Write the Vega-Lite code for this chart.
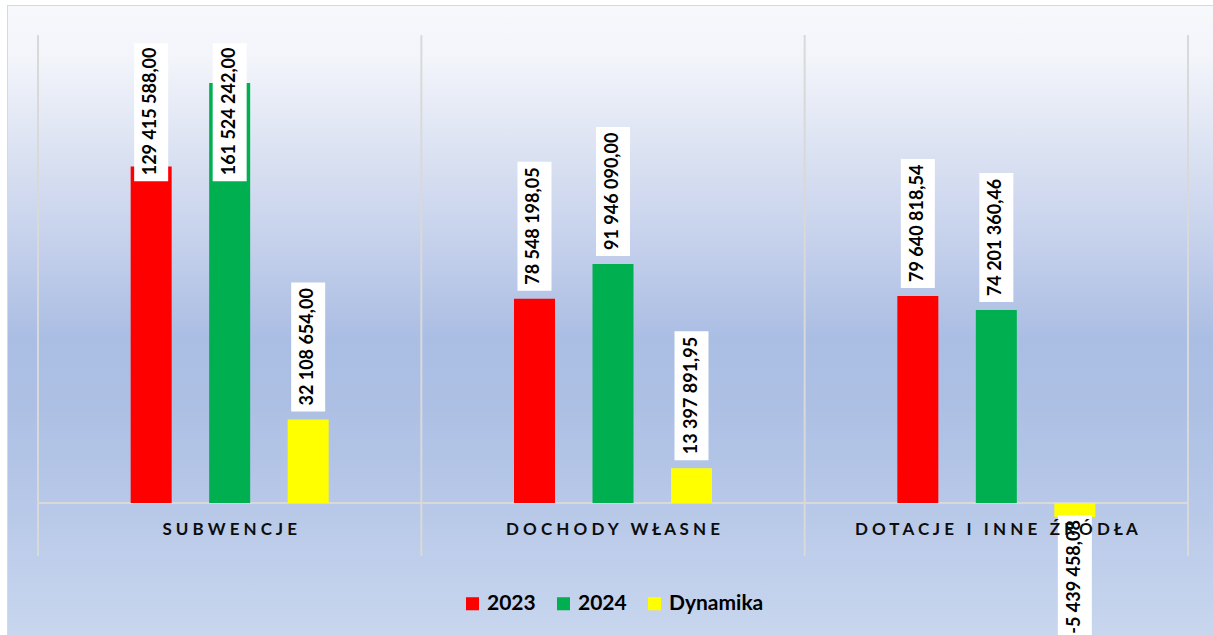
{
  "$schema": "https://vega.github.io/schema/vega-lite/v6.json",
  "autosize": {"type": "none"},
  "padding": {"left": 8, "top": 6, "right": 0, "bottom": 0},
  "width": 1205,
  "height": 629,
  "background": "#ffffff",
  "view": {"stroke": "#d9d9d9", "strokeWidth": 2},
  "title": {
    "text": "Wykres nr 2",
    "anchor": "start",
    "frame": "group",
    "font": "Liberation Serif",
    "fontStyle": "italic",
    "fontWeight": "normal",
    "fontSize": 21,
    "color": "#000000",
    "baseline": "alphabetic",
    "offset": 2,
    "dx": 2
  },
  "config": {
    "font": "Lato",
    "axisY": {"disable": true}
  },
  "data": {
    "values": [
      {"kategoria": "SUBWENCJE", "seria": "2023", "wartosc": 129415588.00},
      {"kategoria": "SUBWENCJE", "seria": "2024", "wartosc": 161524242.00},
      {"kategoria": "SUBWENCJE", "seria": "Dynamika", "wartosc": 32108654.00},
      {"kategoria": "DOCHODY WŁASNE", "seria": "2023", "wartosc": 78548198.05},
      {"kategoria": "DOCHODY WŁASNE", "seria": "2024", "wartosc": 91946090.00},
      {"kategoria": "DOCHODY WŁASNE", "seria": "Dynamika", "wartosc": 13397891.95},
      {"kategoria": "DOTACJE I INNE ŹRÓDŁA", "seria": "2023", "wartosc": 79640818.54},
      {"kategoria": "DOTACJE I INNE ŹRÓDŁA", "seria": "2024", "wartosc": 74201360.46},
      {"kategoria": "DOTACJE I INNE ŹRÓDŁA", "seria": "Dynamika", "wartosc": -5439458.08}
    ]
  },
  "encoding": {
    "x": {
      "field": "kategoria",
      "type": "nominal",
      "sort": null,
      "scale": {"paddingInner": 0, "paddingOuter": 0.07174, "align": 0.5455},
      "axis": {
        "title": null,
        "offset": -132,
        "domain": false,
        "ticks": false,
        "grid": false,
        "labelAngle": 0,
        "labelPadding": 18,
        "labelBaseline": "top",
        "labelFont": "Lato",
        "labelFontSize": 17,
        "labelFontWeight": "bold",
        "labelColor": "#0d0d0d",
        "labelLimit": 0,
        "zindex": 1,
        "labelExpr": "replace(datum.label, regexp('(.)(?!$)', 'g'), '$1\u00a0')"
      }
    }
  },
  "layer": [
    {
      "transform": [{"filter": "datum.seria == '2023' && datum.kategoria == 'SUBWENCJE'"}],
      "mark": {
        "type": "rect",
        "fill": {
          "gradient": "linear",
          "x1": 0, "y1": 0, "x2": 0, "y2": 1,
          "stops": [
            {"offset": 0, "color": "#f7f8fc"},
            {"offset": 0.08, "color": "#f3f5fb"},
            {"offset": 0.23, "color": "#dbe2f2"},
            {"offset": 0.39, "color": "#c3cfeb"},
            {"offset": 0.53, "color": "#aabde3"},
            {"offset": 0.64, "color": "#adc0e4"},
            {"offset": 0.79, "color": "#b7c8e8"},
            {"offset": 1, "color": "#c8d6ee"}
          ]
        }
      },
      "encoding": {"x": {"value": 0}, "x2": {"value": 1205}, "y": {"value": 0}, "y2": {"value": 629}}
    },
    {
      "transform": [{"filter": "datum.seria == '2023'"}],
      "mark": {"type": "rule", "color": "#d9d9d9", "strokeWidth": 2},
      "encoding": {
        "x": {
          "field": "kategoria",
          "type": "nominal",
          "sort": null,
          "bandPosition": 0,
          "scale": {"paddingInner": 0, "paddingOuter": 0.07174, "align": 0.5455},
          "axis": {
            "title": null,
            "offset": -132,
            "domain": false,
            "ticks": false,
            "grid": false,
            "labelAngle": 0,
            "labelPadding": 18,
            "labelBaseline": "top",
            "labelFont": "Lato",
            "labelFontSize": 17,
            "labelFontWeight": "bold",
            "labelColor": "#0d0d0d",
            "labelLimit": 0,
            "zindex": 1,
            "labelExpr": "replace(datum.label, regexp('(.)(?!$)', 'g'), '$1\u00a0')"
          }
        },
        "y": {"datum": 180000000, "type": "quantitative"},
        "y2": {"datum": -20400000}
      }
    },
    {
      "transform": [{"filter": "datum.seria == '2023' && datum.kategoria == 'DOTACJE I INNE ŹRÓDŁA'"}],
      "mark": {"type": "rule", "color": "#d9d9d9", "strokeWidth": 2},
      "encoding": {
        "x": {
          "field": "kategoria",
          "type": "nominal",
          "sort": null,
          "bandPosition": 1,
          "scale": {"paddingInner": 0, "paddingOuter": 0.07174, "align": 0.5455},
          "axis": {
            "title": null,
            "offset": -132,
            "domain": false,
            "ticks": false,
            "grid": false,
            "labelAngle": 0,
            "labelPadding": 18,
            "labelBaseline": "top",
            "labelFont": "Lato",
            "labelFontSize": 17,
            "labelFontWeight": "bold",
            "labelColor": "#0d0d0d",
            "labelLimit": 0,
            "zindex": 1,
            "labelExpr": "replace(datum.label, regexp('(.)(?!$)', 'g'), '$1\u00a0')"
          }
        },
        "y": {"datum": 180000000, "type": "quantitative"},
        "y2": {"datum": -20400000}
      }
    },
    {
      "transform": [{"filter": "datum.seria == '2023'"}],
      "mark": {"type": "tick", "color": "#d9d9d9", "thickness": 2, "size": 384, "opacity": 1},
      "encoding": {
        "y": {"datum": 0, "type": "quantitative"}
      }
    },
    {
      "mark": {"type": "bar", "width": 41},
      "encoding": {
        "xOffset": {
          "field": "seria",
          "type": "nominal",
          "scale": {"domain": ["2023", "2024", "Dynamika"], "paddingInner": 0.117, "paddingOuter": 1}
        },
        "y": {
          "field": "wartosc",
          "type": "quantitative",
          "scale": {"domain": [-50769231, 191153846], "nice": false, "zero": false}
        },
        "color": {
          "field": "seria",
          "type": "nominal",
          "scale": {"domain": ["2023", "2024", "Dynamika"], "range": ["#ff0000", "#00b050", "#ffff00"]},
          "legend": {
            "title": null,
            "orient": "none",
            "legendX": 454,
            "legendY": 587,
            "direction": "horizontal",
            "symbolType": "square",
            "symbolSize": 170,
            "symbolStrokeWidth": 0,
            "labelFont": "Lato",
            "labelFontSize": 21,
            "labelFontWeight": "bold",
            "labelColor": "#000000",
            "labelOffset": 4,
            "columnPadding": 17
          }
        }
      }
    },
    {
      "transform": [
        {"filter": "datum.wartosc >= 0 && datum.wartosc < 100000000"}
      ],
      "mark": {"type": "bar", "width": 34, "fill": "#ffffff", "yOffset": -137, "y2Offset": -8},
      "encoding": {
        "xOffset": {"field": "seria", "type": "nominal"},
        "y": {"field": "wartosc", "type": "quantitative"},
        "y2": {"field": "wartosc"}
      }
    },
    {
      "transform": [
        {"filter": "datum.wartosc >= 100000000"},
        {"calculate": "min(datum.wartosc, 120650000)", "as": "poz"}
      ],
      "mark": {"type": "bar", "width": 34, "fill": "#ffffff", "yOffset": -146, "y2Offset": -8},
      "encoding": {
        "xOffset": {"field": "seria", "type": "nominal"},
        "y": {"field": "poz", "type": "quantitative"},
        "y2": {"field": "poz"}
      }
    },
    {
      "transform": [{"filter": "datum.wartosc < 0"}],
      "mark": {"type": "bar", "width": 34, "fill": "#ffffff", "yOffset": -2, "y2Offset": 150},
      "encoding": {
        "xOffset": {"field": "seria", "type": "nominal"},
        "y": {"field": "wartosc", "type": "quantitative"},
        "y2": {"field": "wartosc"}
      }
    },
    {
      "transform": [
        {"filter": "datum.wartosc >= 0"},
        {"calculate": "min(datum.wartosc, 120650000)", "as": "poz"},
        {"calculate": "replace(replace(replace(format(datum.wartosc, ',.2f'), regexp(',', 'g'), ' '), '.', ','), '\u2212', '-')", "as": "etykieta"}
      ],
      "mark": {
        "type": "text",
        "angle": 270,
        "baseline": "middle",
        "align": "left",
        "dx": 14,
        "font": "Lato",
        "fontSize": 18,
        "fontWeight": "bold",
        "color": "#000000"
      },
      "encoding": {
        "xOffset": {"field": "seria", "type": "nominal"},
        "y": {"field": "poz", "type": "quantitative"},
        "text": {"field": "etykieta", "type": "nominal"}
      }
    },
    {
      "transform": [
        {"filter": "datum.wartosc < 0"},
        {"calculate": "replace(replace(replace(format(datum.wartosc, ',.2f'), regexp(',', 'g'), ' '), '.', ','), '\u2212', '-')", "as": "etykieta"}
      ],
      "mark": {
        "type": "text",
        "angle": 270,
        "baseline": "middle",
        "align": "right",
        "dx": -3,
        "font": "Lato",
        "fontSize": 18,
        "fontWeight": "bold",
        "color": "#000000"
      },
      "encoding": {
        "xOffset": {"field": "seria", "type": "nominal"},
        "y": {"field": "wartosc", "type": "quantitative"},
        "text": {"field": "etykieta", "type": "nominal"}
      }
    }
  ]
}
